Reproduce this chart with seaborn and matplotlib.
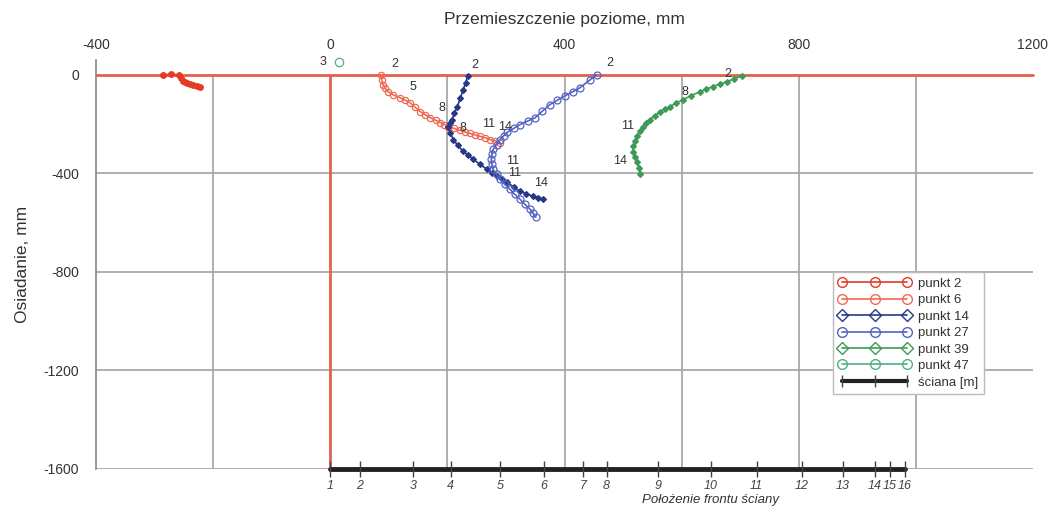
import numpy as np
import pandas as pd
import matplotlib
matplotlib.use("Agg")
import matplotlib.pyplot as plt
import seaborn as sns
from matplotlib.lines import Line2D
from matplotlib.ticker import MultipleLocator

sns.set_style("white")
plt.rcParams['font.family'] = ['Liberation Sans', 'DejaVu Sans']

# ---------------- data ----------------
p2_x = [-285, -272, -259, -255, -252, -248, -244, -239, -234, -228, -222]
p2_y = [0, 2, 0, -12, -24, -28, -32, -36, -41, -44, -49]

p6_x = [87, 88, 90, 94, 99, 108, 119, 128, 136, 145, 154, 162, 171, 180, 188, 195,
        201, 212, 222, 230, 239, 248, 256, 265, 273, 282, 290]
p6_y = [0, -20, -40, -55, -69, -82, -93, -103, -113, -132, -150, -162, -174, -185, -194, -202,
        -210, -218, -226, -232, -238, -244, -250, -256, -263, -268, -275]

p14_x = [235, 231, 227, 222, 217, 212, 208, 204, 201, 205, 210, 218, 227, 236, 244, 256,
         268, 277, 285, 294, 302, 313, 324, 335, 346, 355, 363]
p14_y = [-4, -32, -61, -95, -129, -156, -182, -196, -210, -236, -263, -287, -311, -327, -343, -364,
         -384, -398, -412, -424, -436, -455, -473, -483, -493, -499, -505]

p27_x = [455, 444, 426, 414, 401, 388, 375, 362, 350, 337, 324, 313, 302, 296, 290, 284, 278,
         276, 275, 276, 278, 284, 290, 298, 307, 315, 324, 332, 341, 346, 351]
p27_y = [0, -20, -53, -69, -85, -103, -121, -148, -174, -188, -202, -218, -234, -248, -263, -283, -303,
         -323, -343, -364, -384, -404, -424, -445, -465, -485, -505, -525, -545, -562, -578]

p39_x = [703, 690, 677, 665, 653, 642, 631, 616, 602, 591, 580, 571, 563, 554, 546, 540,
         534, 529, 524, 520, 517, 517, 520, 524, 527, 529]
p39_y = [-4, -16, -28, -38, -48, -58, -69, -85, -101, -115, -129, -140, -150, -166, -182, -196,
         -210, -230, -250, -270, -291, -315, -335, -356, -380, -404]

p47_x = [15]
p47_y = [50]

wall_pos = [0, 50, 142, 206, 290, 365, 432, 472, 560, 650, 728, 805, 875, 930, 955, 981]
wall_labels = ["1", "2", "3", "4", "5", "6", "7", "8", "9", "10", "11", "12", "13", "14", "15", "16"]
wall_level = -1600

ann_text = ["3", "2", "5", "2", "8", "8", "11", "14", "11", "11", "14", "2", "2", "8", "11", "14"]
ann_x = [-12, 111, 142, 246, 191, 227, 271, 299, 312, 314, 360, 478, 679, 606, 507, 495]
ann_y = [53, 44, -48, 40, -133, -214, -198, -210, -350, -398, -440, 48, 4, -69, -206, -351]

x_ticks = [-400, 0, 400, 800, 1200]
y_ticks = [0, -400, -800, -1200, -1600]
grid_x = [-200, 200, 400, 600, 800, 1000]
grid_y = [-400, -800, -1200, -1600]

series = [
    ("punkt 2", p2_x, p2_y, "#e33b26", "o", True, 4),
    ("punkt 6", p6_x, p6_y, "#ef6a55", "o", False, 4.5),
    ("punkt 14", p14_x, p14_y, "#283886", "D", True, 3),
    ("punkt 27", p27_x, p27_y, "#5462c2", "o", False, 5),
    ("punkt 39", p39_x, p39_y, "#3f9a58", "D", True, 3),
    ("punkt 47", p47_x, p47_y, "#4fb08a", "o", False, 6),
]

# ---------------- figure ----------------
fig = plt.figure(figsize=(10.52, 5.08), dpi=100)
ax = fig.add_axes([96 / 1052, 1 - 469 / 508, (1033 - 96) / 1052, (469 - 60) / 508])
ax.set_xlim(-400, 1200)
ax.set_ylim(-1600, 60)

grid_col = "#a9a9a9"
ax.vlines(grid_x, wall_level, 0, color=grid_col, lw=1.3, zorder=1)
ax.hlines(grid_y, -400, 1200, color=grid_col, lw=1.3, zorder=1)
# reference red axes
ax.axhline(0, color="#e2604e", lw=2.0, zorder=2)
ax.vlines([0], wall_level, 0, color="#e2604e", lw=2.0, zorder=2)

for name, xs, ys, col, mk, filled, ms in series:
    df = pd.DataFrame({"x": xs, "y": ys})
    sns.lineplot(data=df, x="x", y="y", sort=False, estimator=None, ax=ax,
                 color=col, lw=1.2, marker=mk, markersize=ms,
                 markerfacecolor=col if filled else "none",
                 markeredgecolor=col, markeredgewidth=0.9, legend=False, zorder=4)
for c in ax.lines:
    c.set_clip_on(False)

# wall (front position) line
wdf = pd.DataFrame({"x": wall_pos, "y": [wall_level] * len(wall_pos)})
sns.lineplot(data=wdf, x="x", y="y", sort=False, estimator=None, ax=ax, color="#222222",
             lw=3.5, marker="|", markersize=11, markeredgewidth=1.0,
             markeredgecolor="#444444", legend=False, zorder=5)
ax.lines[-1].set_clip_on(False)
for xv, lab in zip(wall_pos, wall_labels):
    ax.annotate(lab, (xv, wall_level), xytext=(0, -8), textcoords="offset points",
                ha="center", va="top", fontsize=9, style="italic", color="#444444",
                annotation_clip=False)
ax.annotate("Położenie frontu ściany", (650, wall_level), xytext=(0, -18),
            textcoords="offset points", ha="center", va="top", fontsize=9.5,
            style="italic", color="#333333", annotation_clip=False)

for t, xv, yv in zip(ann_text, ann_x, ann_y):
    ax.text(xv, yv, t, fontsize=9, color="#333333", ha="center", va="center", zorder=6)

# axes styling
ax.xaxis.tick_top()
ax.xaxis.set_label_position("top")
ax.set_xticks(x_ticks)
ax.set_xticklabels([str(v) for v in x_ticks])
ax.tick_params(axis="x", length=0, pad=6, labelsize=10, colors="#333333")
ax.set_xlabel("Przemieszczenie poziome, mm", fontsize=12.5, color="#333333", labelpad=10)

ax.set_yticks(y_ticks)
ax.set_yticklabels([str(v) for v in y_ticks])
ax.yaxis.set_minor_locator(MultipleLocator(200))
ax.tick_params(axis="y", which="major", length=9, width=1.2, color=grid_col, pad=3,
               labelsize=10, labelcolor="#333333")
ax.tick_params(axis="y", which="minor", length=5, width=1.0, color=grid_col)
ax.set_ylabel("Osiadanie, mm", fontsize=12.5, color="#333333", labelpad=10)

for s in ["top", "right", "bottom"]:
    ax.spines[s].set_visible(False)
ax.spines["left"].set_color("#888888")
ax.spines["left"].set_linewidth(1.2)

# legend
handles = []
for name, xs, ys, col, mk, filled, ms in series:
    handles.append(Line2D([], [], color=col, lw=1.2, marker=mk,
                          markersize=7 if mk == "o" else 6,
                          markerfacecolor="none", markeredgecolor=col, markeredgewidth=1.0))
handles.append(Line2D([], [], color="#222222", lw=3, marker="|", markersize=9,
                      markeredgecolor="#444444"))
labels = [s[0] for s in series] + ["ściana [m]"]
leg = fig.legend(handles, labels, loc="upper left",
                 bbox_to_anchor=(826 / 1052, 1 - 265 / 508), fontsize=9.5, numpoints=3,
                 handlelength=5.5, labelspacing=0.32, handletextpad=0.5, borderpad=0.45,
                 frameon=True, fancybox=False, framealpha=1, edgecolor="#bbbbbb")
for t in leg.get_texts():
    t.set_color("#333333")

fig.savefig("out.png", dpi=100)
